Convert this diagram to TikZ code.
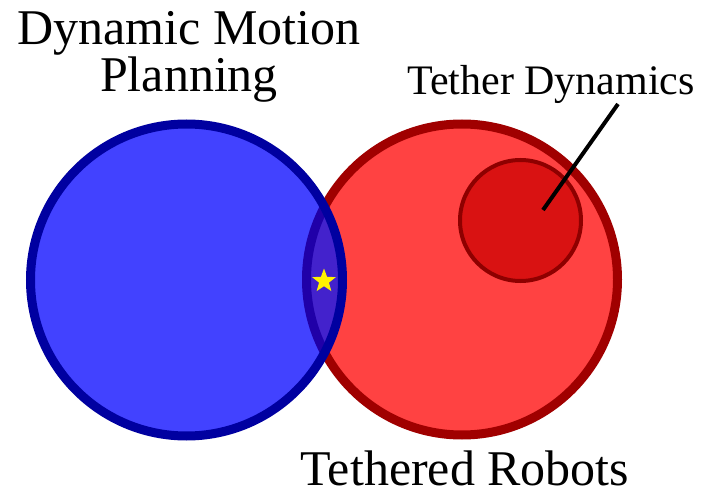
\documentclass[tikz,border=0pt]{standalone}
\usepackage{fontspec}
\setmainfont{Liberation Serif}
\usetikzlibrary{shapes.geometric}
\definecolor{planfill}{HTML}{4242FF}
\definecolor{planedge}{HTML}{0000A0}
\definecolor{robfill}{HTML}{FF4242}
\definecolor{robedge}{HTML}{A00000}
\definecolor{dynfill}{HTML}{D91212}
\definecolor{dynedge}{HTML}{8E0000}
\definecolor{lensfill}{HTML}{4322CC}
\definecolor{lensedge}{HTML}{2000A8}
\begin{document}
\begin{tikzpicture}[x=1pt,y=-1pt,
  big/.style={font=\fontsize{50}{50}\selectfont,anchor=base,inner sep=0pt},
  mid/.style={font=\fontsize{42}{42}\selectfont,anchor=base,inner sep=0pt}]
\useasboundingbox (0,0) rectangle (716,495);
\node[big] (dmp1) at (189,45) {Dynamic Motion};
\node[big] (dmp2) at (189,92) {Planning};
\node[mid] (tdlab) at (551,95) {Tether Dynamics};
\node[big] (trlab) at (465,485) {Tethered Robots};
\draw[robedge,fill=robfill,line width=9pt] (462,279.5) circle (155.5);
\fill[planfill] (186.5,280) circle (156);
\begin{scope}
 \clip (186.5,280) circle (156);
 \draw[lensedge,fill=lensfill,line width=9pt] (462,279.5) circle (155.5);
\end{scope}
\draw[planedge,line width=9pt] (186.5,280) circle (156);
\draw[dynedge,fill=dynfill,line width=4pt] (520.5,220.5) circle (60.5);
\coordinate (tdin) at (543,210);
\coordinate (tdout) at (618,104);
\draw[line width=4pt] (tdin)--(tdout);
\node[star,star points=5,star point ratio=2.4,fill=yellow,inner sep=0pt,
  minimum size=25pt] (goal) at (324,281) {};
\end{tikzpicture}
\end{document}
